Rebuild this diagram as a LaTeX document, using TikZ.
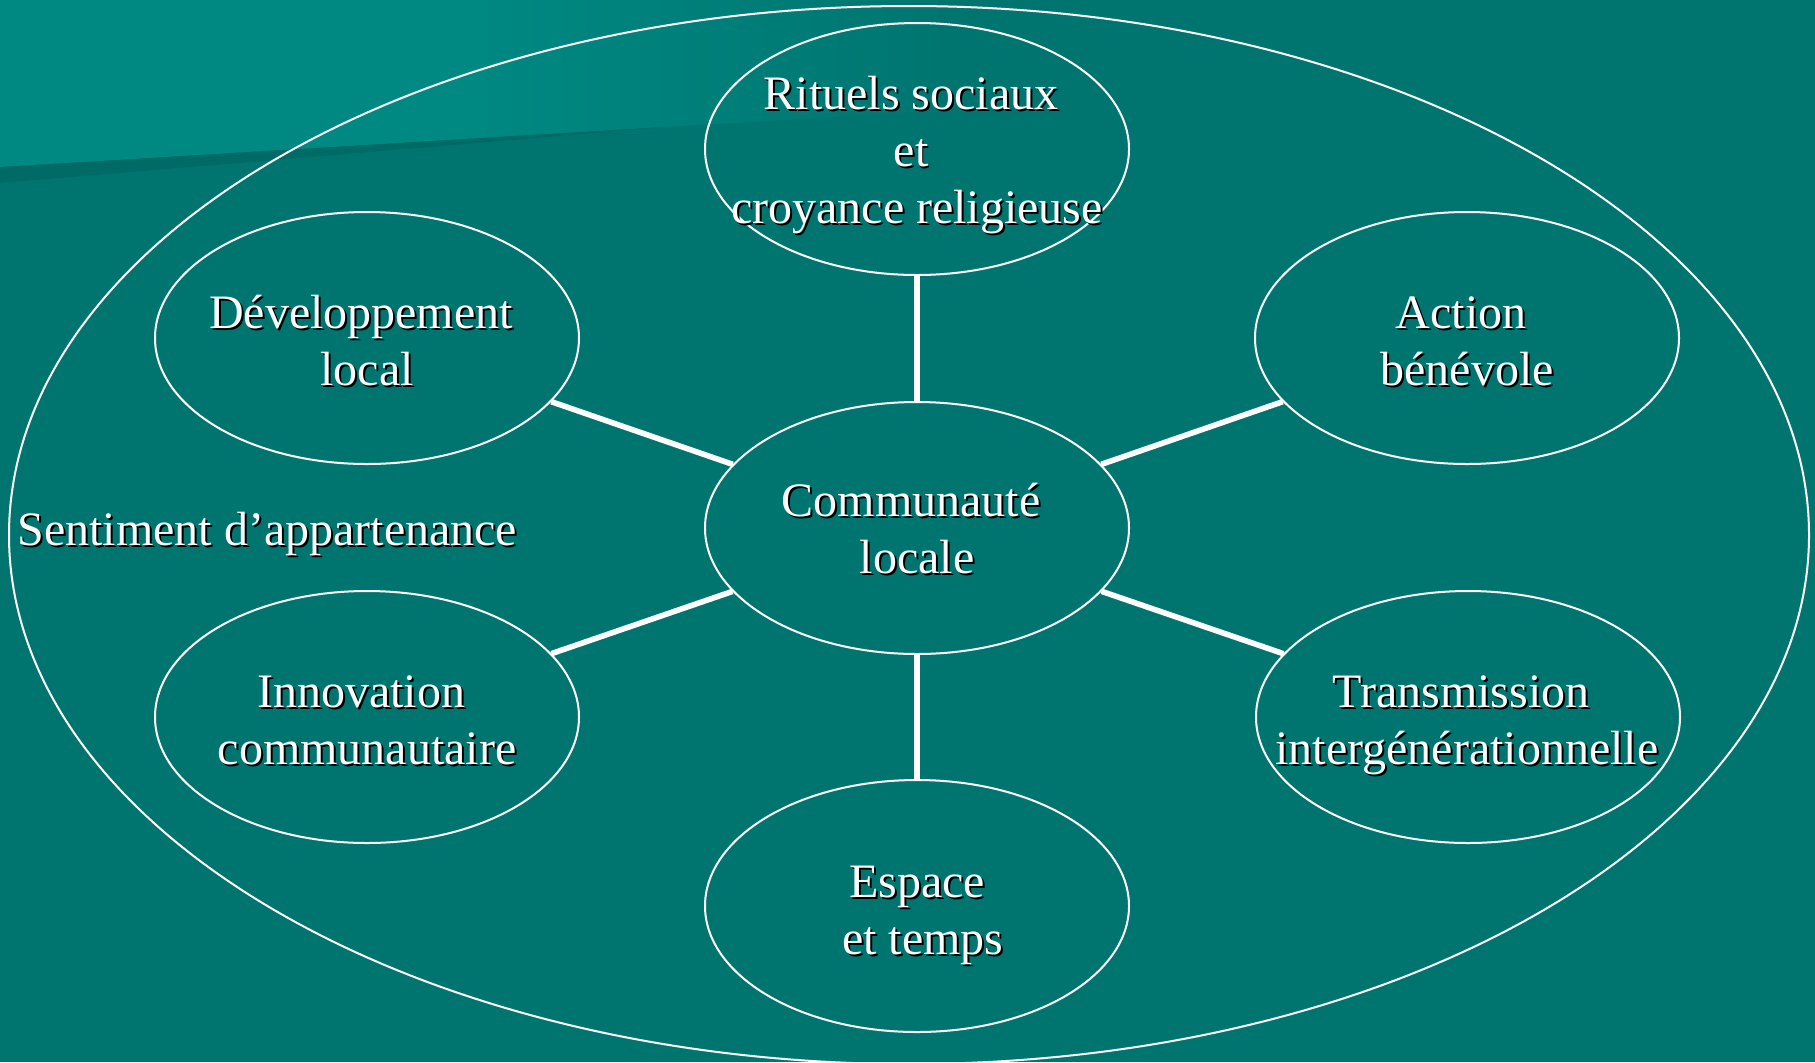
\documentclass[tikz,border=0pt]{standalone}
\usepackage{fontspec}
\setmainfont{Liberation Serif}
\usetikzlibrary{shapes.geometric}
\definecolor{bodycol}{RGB}{0,117,112}
\definecolor{lightcol}{RGB}{0,137,131}
\definecolor{stripcol}{RGB}{0,107,102}
\newcommand\tsp{\kern.25em}
\newcommand\shtext[4][]{%
  \node[lbl,text=black,#1] (#2s) at ([shift={(2,2)}]#3) {#4};
  \node[lbl,#1] (#2) at (#3) {#4};}
\begin{document}
\begin{tikzpicture}[x=0.5pt,y=-0.5pt,
  ell/.style={ellipse, draw=white, line width=1pt, minimum width=212pt, minimum height=126pt, inner sep=0pt},
  lbl/.style={text=white, align=center, inner sep=0pt, font=\fontsize{24}{28.5}\selectfont},
  link/.style={draw=white, line width=2.8pt}]
% background
\useasboundingbox (0,0) rectangle (1815,1062);
\fill[bodycol] (0,0) rectangle (1815,1062);
\fill[lightcol] (0,0) -- (450,0) -- (450,140) -- (0,167) -- cycle;
\shade[left color=lightcol, right color=bodycol] (449,0) -- (950,0) -- (950,110) -- (449,140) -- cycle;
\fill[stripcol] (0,167) -- (680,126) -- (0,183) -- cycle;
% outer ellipse
\node[ellipse, draw=white, line width=1pt, minimum width=900pt, minimum height=529pt, inner sep=0pt] (outer) at (909,535) {};
% ellipses
\node[ell] (rit) at (917,149) {};
\node[ell] (dev) at (367,338) {};
\node[ell] (act) at (1467,338) {};
\node[ell] (com) at (917,528) {};
\node[ell] (inn) at (367,717) {};
\node[ell] (tra) at (1468,717) {};
\node[ell] (esp) at (917,906) {};
% connectors
\draw[link] (rit) -- (com);
\draw[link] (dev) -- (com);
\draw[link] (act) -- (com);
\draw[link] (inn) -- (com);
\draw[link] (tra) -- (com);
\draw[link] (esp) -- (com);
% texts
\shtext{trit}{917,155}{Rituels sociaux\tsp\\et\tsp\\croyance religieuse}
\shtext{tdev}{367,341}{Développement\tsp\\local}
\shtext{tact}{1467,341}{Action\tsp\\bénévole}
\shtext{tcom}{917,529}{Communauté\tsp\\locale}
\shtext{tinn}{367,720}{Innovation\tsp\\communautaire}
\shtext{ttra}{1467,725}{Transmission\tsp\\intergénérationnelle}
\shtext{tesp}{917,915}{Espace\\\tsp et temps}
\shtext[anchor=base west]{tsen}{17,545}{Sentiment d’appartenance}
\end{tikzpicture}
\end{document}
